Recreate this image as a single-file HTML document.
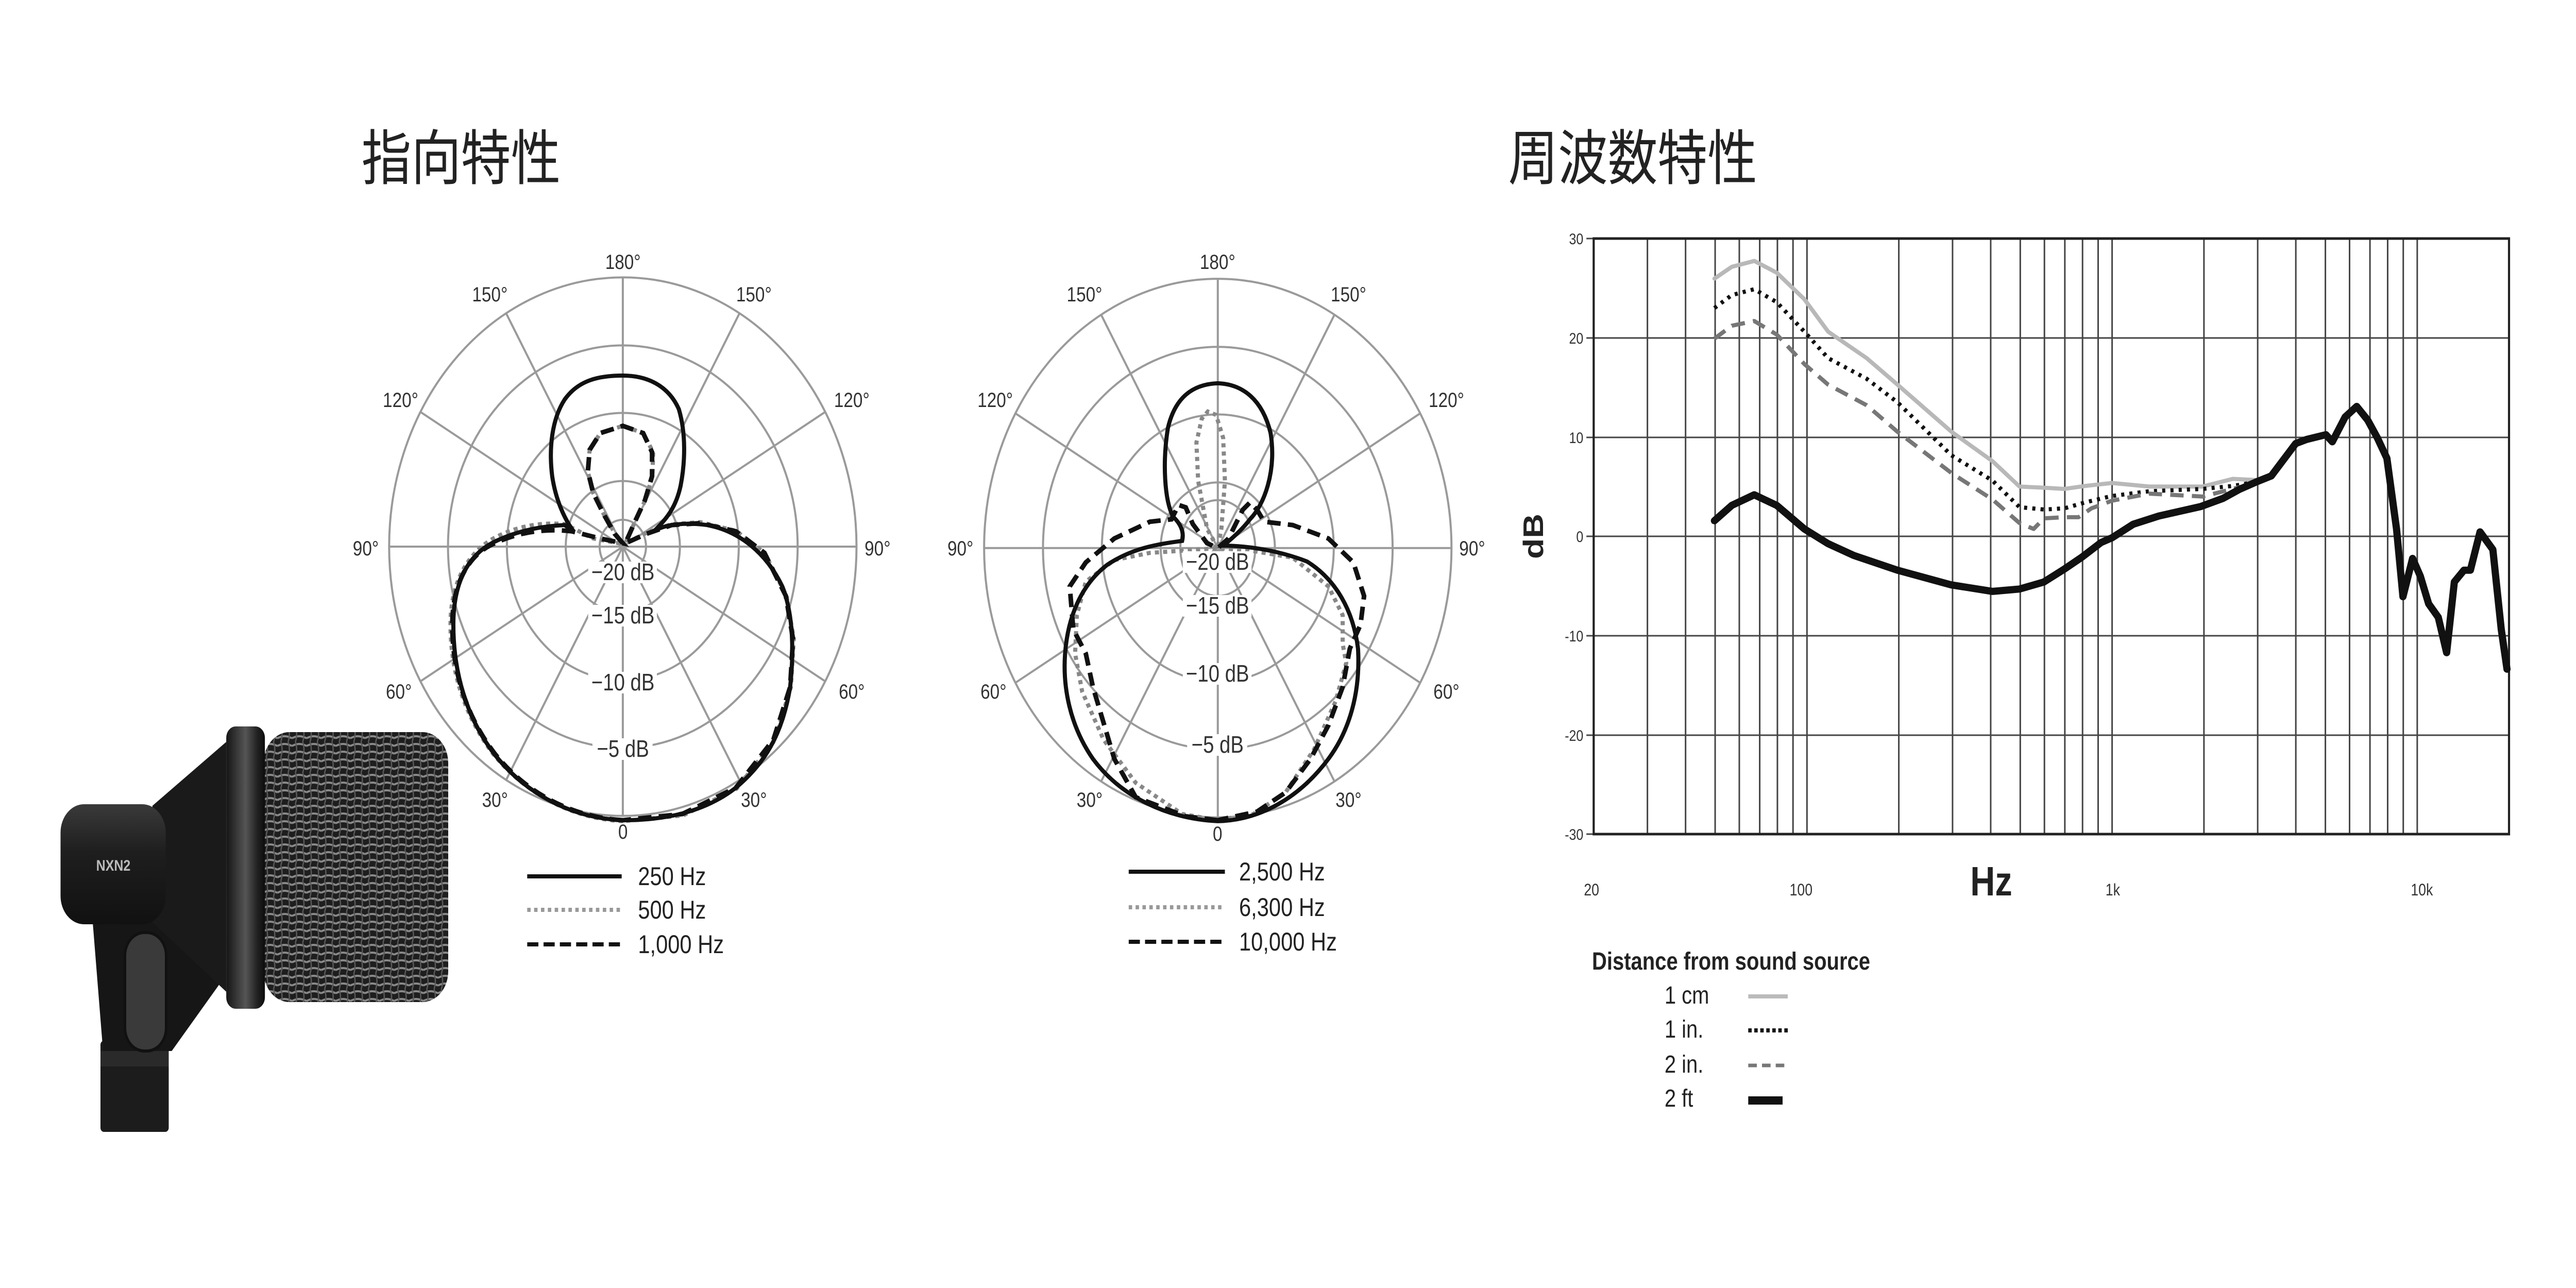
<!DOCTYPE html>
<html><head><meta charset="utf-8"><style>
html,body{margin:0;padding:0;background:#fff;overflow:hidden;width:100%;height:100%;}
svg{display:block;position:absolute;left:0;top:0;width:100vw;height:100vh;}
text{font-family:"Liberation Sans",Arial,sans-serif;}
</style></head><body>
<svg viewBox="0 0 6000 2500" preserveAspectRatio="none" xmlns="http://www.w3.org/2000/svg">
<defs>
<pattern id="mesh" width="34" height="30" patternUnits="userSpaceOnUse">
<rect width="34" height="30" fill="#1e1e1e"/>
<path d="M0 8 Q17 0 34 8 M0 23 Q17 15 34 23" stroke="#8a8a8a" stroke-width="4" fill="none"/>
<path d="M8 0 Q14 15 8 30 M25 0 Q31 15 25 30" stroke="#5a5a5a" stroke-width="3" fill="none"/>
</pattern>
<linearGradient id="body" x1="0" y1="0" x2="0" y2="1">
<stop offset="0" stop-color="#3a3a3a"/><stop offset="0.4" stop-color="#1e1e1e"/><stop offset="1" stop-color="#111"/>
</linearGradient>
<linearGradient id="ring" x1="0" y1="0" x2="1" y2="0">
<stop offset="0" stop-color="#151515"/><stop offset="0.5" stop-color="#555"/><stop offset="0.8" stop-color="#222"/><stop offset="1" stop-color="#0c0c0c"/>
</linearGradient>
</defs>
<rect width="6000" height="2500" fill="#fff"/>

<text x="842" y="348" font-size="116" fill="#222" style='font-family:"Liberation Sans","Noto Sans CJK JP",sans-serif'>指向特性</text>
<text x="3513" y="348" font-size="116" fill="#222" style='font-family:"Liberation Sans","Noto Sans CJK JP",sans-serif'>周波数特性</text>

<!-- POLAR 1 -->
<g transform="matrix(0.831,0,0,0.93,800,450)" fill="none" stroke="#9a9a9a" stroke-width="4">
<g transform="translate(783,657)">
<ellipse rx="655" ry="562" vector-effect="non-scaling-stroke"/>
<ellipse rx="490" ry="420" vector-effect="non-scaling-stroke"/>
<ellipse rx="325" ry="279" vector-effect="non-scaling-stroke"/>
<ellipse rx="160" ry="137" vector-effect="non-scaling-stroke"/>
<ellipse rx="65" ry="56" vector-effect="non-scaling-stroke"/>
<line x1="-655" y1="0" x2="655" y2="0" vector-effect="non-scaling-stroke"/>
<line x1="0" y1="-562" x2="0" y2="562" vector-effect="non-scaling-stroke"/>
<line x1="-327" y1="-487" x2="327" y2="487" vector-effect="non-scaling-stroke"/>
<line x1="327" y1="-487" x2="-327" y2="487" vector-effect="non-scaling-stroke"/>
<line x1="-567" y1="-281" x2="567" y2="281" vector-effect="non-scaling-stroke"/>
<line x1="567" y1="-281" x2="-567" y2="281" vector-effect="non-scaling-stroke"/>
</g>
<path d="M783,1230 C650,1225 520,1180 420,1090 C340,1010 300,920 300,820 C300,730 350,670 420,640 C490,612 560,606 620,610 L700,640 L785,652 L760,628 L730,590 L700,545 L685,500 L690,455 L720,420 L783,405 L840,420 L868,460 L866,510 L846,560 L820,600 L790,650 L850,628 L920,610 L1000,606 L1100,624 L1180,670 L1242,760 L1262,850 L1254,950 L1208,1062 L1102,1162 L952,1218 Z" stroke="#888" stroke-width="8" stroke-dasharray="8 8" vector-effect="non-scaling-stroke"/>
<path d="M783,1228 C650,1222 520,1178 425,1090 C345,1012 305,920 305,820 C305,740 345,680 410,655 C480,628 560,618 640,625 L720,640 L783,650 L760,630 L730,590 L700,545 L685,500 L690,455 L720,420 L783,405 L840,420 L865,460 L865,510 L845,560 L820,600 L790,650 L850,630 L920,612 L1000,608 L1100,625 L1180,670 L1240,760 L1260,850 L1252,950 L1205,1060 L1100,1160 L950,1215 Z" stroke="#111" stroke-width="9" stroke-dasharray="26 14" vector-effect="non-scaling-stroke"/>
<path d="M783,1228 C650,1224 520,1180 425,1092 C345,1015 308,920 308,820 C308,730 350,675 420,648 C490,622 560,614 620,612 L645,625 C620,600 595,560 585,510 C575,450 585,390 620,350 C660,308 720,300 783,300 C850,300 910,320 940,370 C960,420 958,480 945,530 C932,575 905,600 870,625 C900,610 960,606 1020,612 C1110,625 1185,670 1230,740 C1262,800 1262,880 1252,950 C1230,1050 1180,1110 1100,1160 C1010,1212 900,1228 783,1228 Z" stroke="#111" stroke-width="8" vector-effect="non-scaling-stroke"/>
</g>
<g font-size="40" fill="#333" text-anchor="middle">
<text x="1451" y="522">180°</text>
<text x="1141" y="585">150°</text><text x="1756" y="585">150°</text>
<text x="933" y="790">120°</text><text x="1984" y="790">120°</text>
<text x="852" y="1078">90°</text><text x="2044" y="1078">90°</text>
<text x="929" y="1356">60°</text><text x="1984" y="1356">60°</text>
<text x="1153" y="1566">30°</text><text x="1756" y="1566">30°</text>
<text x="1451" y="1628">0</text>
</g>
<g font-size="46" fill="#333" text-anchor="middle">
<rect x="1370" y="1090" width="160" height="42" fill="#fff"/><text x="1451" y="1126">−20 dB</text>
<rect x="1370" y="1174" width="160" height="42" fill="#fff"/><text x="1451" y="1210">−15 dB</text>
<rect x="1370" y="1304" width="160" height="42" fill="#fff"/><text x="1451" y="1340">−10 dB</text>
<rect x="1380" y="1433" width="140" height="42" fill="#fff"/><text x="1451" y="1469">−5 dB</text>
</g>
<g stroke-width="8" fill="none">
<line x1="1228" y1="1701" x2="1448" y2="1701" stroke="#111"/>
<line x1="1228" y1="1766" x2="1448" y2="1766" stroke="#999" stroke-dasharray="8 8"/>
<line x1="1228" y1="1833" x2="1448" y2="1833" stroke="#111" stroke-dasharray="26 12"/>
</g>
<g font-size="50" fill="#222">
<text x="1486" y="1718">250 Hz</text>
<text x="1486" y="1783">500 Hz</text>
<text x="1486" y="1850">1,000 Hz</text>
</g>

<!-- POLAR 2 -->
<g transform="matrix(0.831,0,0,0.93,2180,450)" fill="none" stroke="#9a9a9a" stroke-width="4">
<g transform="translate(790,660)">
<ellipse rx="655" ry="562" vector-effect="non-scaling-stroke"/>
<ellipse rx="490" ry="420" vector-effect="non-scaling-stroke"/>
<ellipse rx="325" ry="279" vector-effect="non-scaling-stroke"/>
<ellipse rx="160" ry="137" vector-effect="non-scaling-stroke"/>
<ellipse rx="105" ry="100" vector-effect="non-scaling-stroke"/>
<line x1="-655" y1="0" x2="655" y2="0" vector-effect="non-scaling-stroke"/>
<line x1="0" y1="-562" x2="0" y2="562" vector-effect="non-scaling-stroke"/>
<line x1="-327" y1="-487" x2="327" y2="487" vector-effect="non-scaling-stroke"/>
<line x1="327" y1="-487" x2="-327" y2="487" vector-effect="non-scaling-stroke"/>
<line x1="-567" y1="-281" x2="567" y2="281" vector-effect="non-scaling-stroke"/>
<line x1="567" y1="-281" x2="-567" y2="281" vector-effect="non-scaling-stroke"/>
</g>
<path d="M790,660 L760,620 L735,520 L730,440 L745,390 L762,375 L785,382 L805,430 L810,520 L800,620 Z M790,1228 L690,1215 L560,1150 L470,1060 L410,960 L390,880 L395,800 L420,730 L500,685 L600,670 L700,665 L790,660 L880,665 L1000,680 L1100,740 L1140,800 L1140,860 L1150,900 L1120,980 L1060,1080 L980,1170 L890,1215 Z" stroke="#888" stroke-width="8" stroke-dasharray="8 8" vector-effect="non-scaling-stroke"/>
<path d="M790,1228 L700,1220 L560,1180 L500,1100 L460,1000 L440,950 L420,880 L385,830 L375,740 L420,690 L500,640 L600,605 L660,600 L680,570 L700,575 L720,610 L760,650 L790,660 L820,640 L860,580 L880,565 L900,580 L920,605 L1000,612 L1100,640 L1170,690 L1200,760 L1190,820 L1160,870 L1140,950 L1100,1030 L1050,1100 L980,1170 L900,1210 Z" stroke="#111" stroke-width="9" stroke-dasharray="26 14" vector-effect="non-scaling-stroke"/>
<path d="M790,1230 C650,1225 520,1180 440,1100 C375,1030 355,950 362,880 C370,800 410,735 480,695 C550,660 620,652 690,645 C695,630 690,612 665,595 C640,560 635,480 650,410 C670,345 720,318 790,316 C860,318 915,350 938,420 C955,500 920,570 880,600 C860,620 830,640 805,655 C860,655 950,662 1040,688 C1120,725 1170,790 1183,870 C1190,960 1160,1040 1100,1100 C1020,1180 910,1228 790,1230 Z" stroke="#111" stroke-width="8" vector-effect="non-scaling-stroke"/>
</g>
<g font-size="40" fill="#333" text-anchor="middle">
<text x="2836" y="522">180°</text>
<text x="2526" y="585">150°</text><text x="3141" y="585">150°</text>
<text x="2318" y="790">120°</text><text x="3369" y="790">120°</text>
<text x="2237" y="1078">90°</text><text x="3429" y="1078">90°</text>
<text x="2314" y="1356">60°</text><text x="3369" y="1356">60°</text>
<text x="2538" y="1566">30°</text><text x="3141" y="1566">30°</text>
<text x="2836" y="1632">0</text>
</g>
<g font-size="46" fill="#333" text-anchor="middle">
<rect x="2755" y="1070" width="160" height="42" fill="#fff"/><text x="2836" y="1106">−20 dB</text>
<rect x="2755" y="1155" width="160" height="42" fill="#fff"/><text x="2836" y="1191">−15 dB</text>
<rect x="2755" y="1287" width="160" height="42" fill="#fff"/><text x="2836" y="1323">−10 dB</text>
<rect x="2765" y="1425" width="140" height="42" fill="#fff"/><text x="2836" y="1461">−5 dB</text>
</g>
<g stroke-width="8" fill="none">
<line x1="2629" y1="1692" x2="2853" y2="1692" stroke="#111"/>
<line x1="2629" y1="1761" x2="2853" y2="1761" stroke="#999" stroke-dasharray="8 8"/>
<line x1="2629" y1="1828" x2="2853" y2="1828" stroke="#111" stroke-dasharray="26 12"/>
</g>
<g font-size="50" fill="#222">
<text x="2886" y="1709">2,500 Hz</text>
<text x="2886" y="1778">6,300 Hz</text>
<text x="2886" y="1845">10,000 Hz</text>
</g>

<!-- FREQUENCY RESPONSE -->
<g stroke="#444" stroke-width="3">
<g transform="translate(2787.4,0) scale(710.7,1)">
<line x1="1.4771" y1="463" x2="1.4771" y2="1619" vector-effect="non-scaling-stroke"/>
<line x1="1.6021" y1="463" x2="1.6021" y2="1619" vector-effect="non-scaling-stroke"/>
<line x1="1.699" y1="463" x2="1.699" y2="1619" vector-effect="non-scaling-stroke"/>
<line x1="1.7782" y1="463" x2="1.7782" y2="1619" vector-effect="non-scaling-stroke"/>
<line x1="1.8451" y1="463" x2="1.8451" y2="1619" vector-effect="non-scaling-stroke"/>
<line x1="1.9031" y1="463" x2="1.9031" y2="1619" vector-effect="non-scaling-stroke"/>
<line x1="1.9542" y1="463" x2="1.9542" y2="1619" vector-effect="non-scaling-stroke"/>
<line x1="2" y1="463" x2="2" y2="1619" vector-effect="non-scaling-stroke"/>
<line x1="2.301" y1="463" x2="2.301" y2="1619" vector-effect="non-scaling-stroke"/>
<line x1="2.4771" y1="463" x2="2.4771" y2="1619" vector-effect="non-scaling-stroke"/>
<line x1="2.6021" y1="463" x2="2.6021" y2="1619" vector-effect="non-scaling-stroke"/>
<line x1="2.699" y1="463" x2="2.699" y2="1619" vector-effect="non-scaling-stroke"/>
<line x1="2.7782" y1="463" x2="2.7782" y2="1619" vector-effect="non-scaling-stroke"/>
<line x1="2.8451" y1="463" x2="2.8451" y2="1619" vector-effect="non-scaling-stroke"/>
<line x1="2.9031" y1="463" x2="2.9031" y2="1619" vector-effect="non-scaling-stroke"/>
<line x1="2.9542" y1="463" x2="2.9542" y2="1619" vector-effect="non-scaling-stroke"/>
<line x1="3" y1="463" x2="3" y2="1619" vector-effect="non-scaling-stroke"/>
<line x1="3.301" y1="463" x2="3.301" y2="1619" vector-effect="non-scaling-stroke"/>
<line x1="3.4771" y1="463" x2="3.4771" y2="1619" vector-effect="non-scaling-stroke"/>
<line x1="3.6021" y1="463" x2="3.6021" y2="1619" vector-effect="non-scaling-stroke"/>
<line x1="3.699" y1="463" x2="3.699" y2="1619" vector-effect="non-scaling-stroke"/>
<line x1="3.7782" y1="463" x2="3.7782" y2="1619" vector-effect="non-scaling-stroke"/>
<line x1="3.8451" y1="463" x2="3.8451" y2="1619" vector-effect="non-scaling-stroke"/>
<line x1="3.9031" y1="463" x2="3.9031" y2="1619" vector-effect="non-scaling-stroke"/>
<line x1="3.9542" y1="463" x2="3.9542" y2="1619" vector-effect="non-scaling-stroke"/>
<line x1="4" y1="463" x2="4" y2="1619" vector-effect="non-scaling-stroke"/>
</g>
<line x1="3712" y1="656" x2="5844" y2="656"/>
<line x1="3712" y1="849" x2="5844" y2="849"/>
<line x1="3712" y1="1041" x2="5844" y2="1041"/>
<line x1="3712" y1="1234" x2="5844" y2="1234"/>
<line x1="3712" y1="1427" x2="5844" y2="1427"/>
<line x1="3695" y1="463" x2="3712" y2="463"/><line x1="3695" y1="656" x2="3712" y2="656"/>
<line x1="3695" y1="849" x2="3712" y2="849"/><line x1="3695" y1="1041" x2="3712" y2="1041"/>
<line x1="3695" y1="1234" x2="3712" y2="1234"/><line x1="3695" y1="1427" x2="3712" y2="1427"/>
<line x1="3695" y1="1619" x2="3712" y2="1619"/>
</g>
<rect x="3712" y="463" width="2132" height="1156" fill="none" stroke="#222" stroke-width="5"/>

<g transform="matrix(1.496,0,0,1.1434,3554.9,420.7)" fill="none" stroke-linejoin="round" stroke-linecap="round">
<polyline points="293,105 320,85 355,75 390,95 433,140 470,195 530,240 578,285 662,365 726,415 768,458 806,460 838,462 870,457 912,452 970,458 1053,458 1100,445 1137,447" stroke="#b8b8b8" stroke-width="8" vector-effect="non-scaling-stroke"/>
<polyline points="293,155 320,133 355,123 390,145 433,195 470,240 530,275 578,315 662,405 726,448 768,493 806,497 838,495 870,485 912,474 970,466 1053,462 1100,457 1137,450" stroke="#111" stroke-width="8" stroke-dasharray="6 10" stroke-linecap="butt" vector-effect="non-scaling-stroke"/>
<polyline points="293,207 320,185 355,177 390,200 433,250 470,285 530,320 578,365 662,435 726,480 768,520 790,530 806,512 838,510 860,510 880,495 912,482 970,470 1053,475 1100,462 1137,452" stroke="#777" stroke-width="8" stroke-dasharray="26 16" stroke-linecap="butt" vector-effect="non-scaling-stroke"/>
<polyline points="293,516 320,490 355,472 390,490 433,530 470,555 510,575 578,600 662,625 726,636 768,632 806,620 838,598 865,578 895,553 912,545 945,522 985,508 1050,492 1085,478 1110,463 1137,450 1160,440 1198,385 1215,378 1245,370 1255,382 1275,340 1293,322 1310,345 1325,375 1340,410 1355,530 1365,645 1380,580 1392,610 1405,657 1420,680 1433,740 1445,620 1460,600 1470,600 1485,535 1505,565 1518,700 1527,768" stroke="#111" stroke-width="14" vector-effect="non-scaling-stroke"/>
</g>

<g font-size="30" fill="#333" text-anchor="end">
<text x="3688" y="474">30</text><text x="3688" y="667">20</text><text x="3688" y="860">10</text>
<text x="3688" y="1052">0</text><text x="3688" y="1245">-10</text><text x="3688" y="1438">-20</text><text x="3688" y="1630">-30</text>
</g>
<text transform="translate(3594,1041) rotate(-90)" text-anchor="middle" font-size="66" font-weight="bold" fill="#222">dB</text>
<g font-size="32" fill="#333" text-anchor="middle">
<text x="3707" y="1738">20</text><text x="4195" y="1738">100</text><text x="4921" y="1738">1k</text><text x="5641" y="1738">10k</text>
</g>
<text x="4638" y="1738" text-anchor="middle" font-size="80" font-weight="bold" fill="#222">Hz</text>

<text x="3708" y="1882" font-size="48" font-weight="bold" fill="#222">Distance from sound source</text>
<g font-size="48" fill="#222">
<text x="3877" y="1948">1 cm</text>
<text x="3877" y="2014">1 in.</text>
<text x="3877" y="2082">2 in.</text>
<text x="3877" y="2148">2 ft</text>
</g>
<line x1="4072" y1="1934" x2="4164" y2="1934" stroke="#bbb" stroke-width="8"/>
<line x1="4072" y1="2000" x2="4164" y2="2000" stroke="#111" stroke-width="8" stroke-dasharray="8 6"/>
<line x1="4072" y1="2068" x2="4164" y2="2068" stroke="#777" stroke-width="7" stroke-dasharray="20 12"/>
<line x1="4072" y1="2136" x2="4152" y2="2136" stroke="#111" stroke-width="16"/>

<!-- MICROPHONE -->
<g>
<rect x="234" y="2020" width="159" height="177" rx="8" fill="#1c1c1c"/>
<rect x="234" y="2040" width="159" height="30" fill="#2a2a2a"/>
<polygon points="215,1780 400,1780 520,1900 400,2040 240,2040" fill="#161616"/>
<polygon points="355,1564 527,1440 527,1925 355,1790" fill="#1a1a1a"/>
<rect x="141" y="1561" width="245" height="233" rx="55" fill="url(#body)"/>
<text x="224" y="1690" font-size="30" font-weight="bold" fill="#bbb">NXN2</text>
<rect x="291" y="1810" width="96" height="230" rx="45" fill="#3a3a3a" stroke="#111" stroke-width="6"/>
<rect x="614" y="1421" width="430" height="524" rx="60" fill="url(#mesh)"/>
<rect x="527" y="1410" width="90" height="548" rx="22" fill="url(#ring)"/>
</g>
</svg>
</body></html>
